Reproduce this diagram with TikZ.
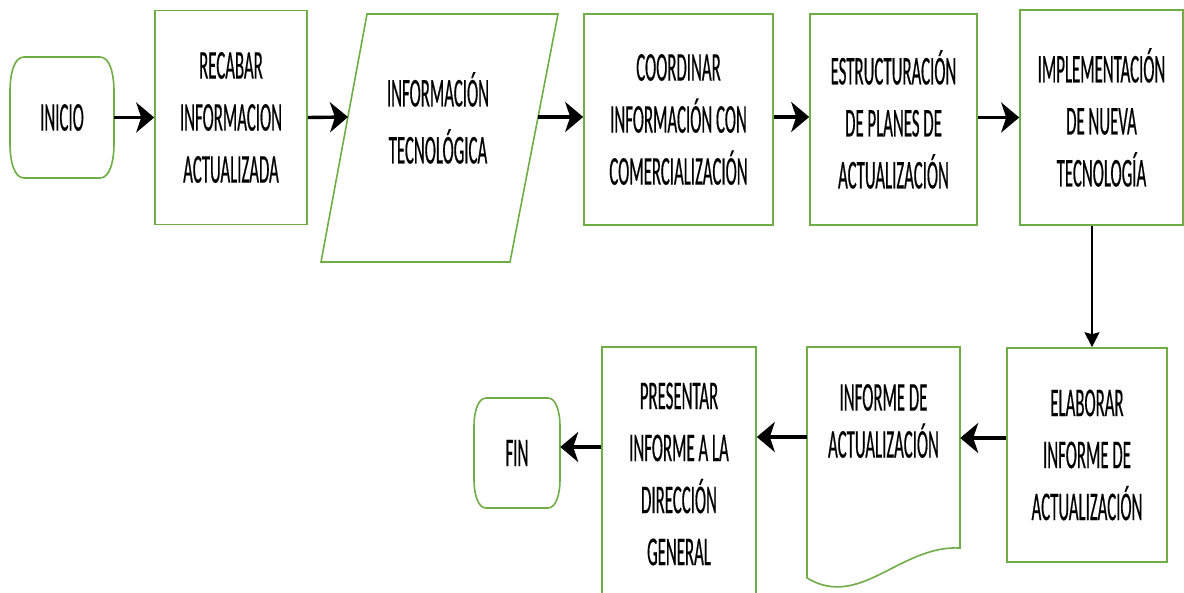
\documentclass[tikz,border=0pt]{standalone}
\usepackage{fontspec}
\setmainfont[FakeStretch=0.41,FakeBold=0.35]{Carlito}
\usetikzlibrary{arrows.meta,calc}
\definecolor{leaf}{HTML}{70AD47}
\tikzset{
  outline/.style={draw=leaf, line width=1.6pt},
  box/.style={outline, rectangle, inner sep=0pt, align=center,
              font=\fontsize{41}{52}\selectfont},
  label/.style={inner sep=0pt, align=center, font=\fontsize{41}{52}\selectfont},
  flow/.style={draw=black, line width=3.4pt,
               -{Stealth[length=18pt,width=30pt,inset=5pt]}},
  thinflow/.style={draw=black, line width=1.4pt,
               -{Stealth[length=15pt,width=15pt,inset=2pt]}}
}
\begin{document}
\begin{tikzpicture}[x=1pt,y=-1pt]
\useasboundingbox[fill=white] (0,0) rectangle (1184,593);
\clip (0,0) rectangle (1184,593);

% --- top row -------------------------------------------------------
% start terminal
\node[label, minimum width=104pt, minimum height=121pt] (inicio) at (62,117.5) {INICIO};
\draw[outline] (24,57) -- (100,57) .. controls (110,57) and (114,74) .. (114,92)
  -- (114,143) .. controls (114,161) and (110,178) .. (100,178)
  -- (24,178) .. controls (14,178) and (10,161) .. (10,143)
  -- (10,92) .. controls (10,74) and (14,57) .. (24,57) -- cycle;

\node[box, minimum width=152pt, minimum height=214pt] (recabar) at (231,117.5)
  {RECABAR\\INFORMACION\\ACTUALIZADA};

% data (parallelogram)
\draw[outline] (367,14) -- (558,14) -- (510,262) -- (321,262) -- cycle;
\node[label, font=\fontsize{41}{57}\selectfont] (tec) at (438,118)
  {INFORMACIÓN\\TECNOLÓGICA};
\coordinate (tecIn) at (348,117);
\coordinate (tecOut) at (538,117);

\node[box, minimum width=189pt, minimum height=211pt] (coord) at (678.5,119.5)
  {COORDINAR\\INFORMACIÓN CON\\COMERCIALIZACIÓN};

\node[box, minimum width=167pt, minimum height=211pt] (estruc) at (893.5,119.5)
  {ESTRUCTURACIÓN\\DE PLANES DE\\ACTUALIZACIÓN};

\node[box, minimum width=163pt, minimum height=215pt] (implem) at (1101.5,117.5)
  {IMPLEMENTACIÓN\\DE NUEVA\\TECNOLOGÍA};

% --- bottom row ----------------------------------------------------
\node[box, minimum width=160pt, minimum height=214pt] (elabor) at (1087,455)
  {ELABORAR\\INFORME DE\\ACTUALIZACIÓN};

% document shape with wavy bottom
\draw[outline] (807,578) -- (807,347) -- (960,347) -- (960,548)
  .. controls (900,545) and (860,610) .. (807,578);
\node[label, font=\fontsize{41}{47}\selectfont, minimum width=153pt] (informe) at (883.5,421)
  {INFORME DE\\ACTUALIZACIÓN};

\node[box, minimum width=154pt, minimum height=254pt] (present) at (679,474)
  {PRESENTAR\\INFORME A LA\\DIRECCIÓN\\GENERAL};

% end terminal
\node[label, minimum width=86pt, minimum height=110pt] (fin) at (517,453) {FIN};
\draw[outline] (486,398) -- (548,398) .. controls (556,398) and (560,412) .. (560,426)
  -- (560,480) .. controls (560,494) and (556,508) .. (548,508)
  -- (486,508) .. controls (478,508) and (474,494) .. (474,480)
  -- (474,426) .. controls (474,412) and (478,398) .. (486,398) -- cycle;

% --- connectors ------------------------------------------------------
\draw[flow] (inicio.east) -- (recabar.west);
\draw[flow] (recabar.east) -- (tecIn);
\draw[flow] (tecOut) -- (tecOut -| coord.west);
\draw[flow] ([yshift=2.5pt]coord.east) -- ([yshift=2.5pt]estruc.west);
\draw[flow] (estruc.east |- implem.east) -- (implem.west);
\draw[thinflow] ([xshift=-9.5pt]implem.south) -- ([xshift=-9.5pt]implem.south |- elabor.north);
\draw[flow] ([yshift=17pt]elabor.west) -- ([yshift=17pt]elabor.west -| informe.east);
\draw[flow] ([yshift=37pt]present.east -| informe.west) -- ([yshift=37pt]present.east);
\draw[flow] ([yshift=27pt]present.west) -- ([yshift=27pt]present.west -| fin.east);
\end{tikzpicture}
\end{document}
